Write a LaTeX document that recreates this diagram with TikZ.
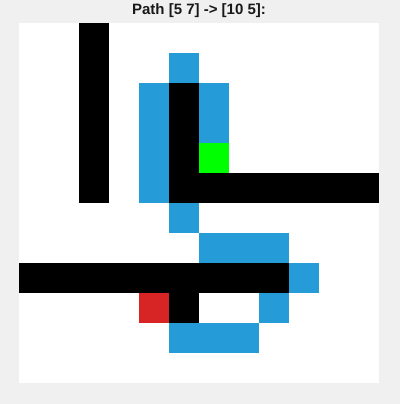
\documentclass[tikz,border=0pt]{standalone}
\usepackage{fontspec}
\setmainfont{Liberation Sans}
\definecolor{bg}{HTML}{F0F0F0}
\definecolor{pathblue}{HTML}{259BD7}
\definecolor{startred}{HTML}{D72424}
\definecolor{goalgreen}{HTML}{00FF00}
\begin{document}
\begin{tikzpicture}[x=1pt,y=-1pt,
  cell/.style={inner sep=0pt,outer sep=0pt,minimum size=30pt,anchor=north west,draw=none}]
\fill[bg] (0,0) rectangle (400,404);
\useasboundingbox (0,0) rectangle (400,404);
\fill[white] (19,23) rectangle (379,383);
\newcommand{\cellat}[3]{\node[cell,fill=#3] at ({19+30*#1},{23+30*#2}) {};}
% walls
\foreach \r in {0,...,5} {\cellat{2}{\r}{black}}
\foreach \r in {2,...,5} {\cellat{5}{\r}{black}}
\foreach \c in {6,...,11} {\cellat{\c}{5}{black}}
\foreach \c in {0,...,8} {\cellat{\c}{8}{black}}
\cellat{5}{9}{black}
% path
\cellat{5}{1}{pathblue}
\foreach \r in {2,...,5} {\cellat{4}{\r}{pathblue}}
\cellat{6}{2}{pathblue}
\cellat{6}{3}{pathblue}
\cellat{5}{6}{pathblue}
\foreach \c in {6,7,8} {\cellat{\c}{7}{pathblue}}
\cellat{9}{8}{pathblue}
\cellat{8}{9}{pathblue}
\foreach \c in {5,6,7} {\cellat{\c}{10}{pathblue}}
% goal and start
\cellat{6}{4}{goalgreen}
\cellat{4}{9}{startred}
\node[font=\fontsize{15}{18}\selectfont\bfseries,text=black!90] (title) at (199,11) {Path [5 7] -> [10 5]:};
\end{tikzpicture}
\end{document}
